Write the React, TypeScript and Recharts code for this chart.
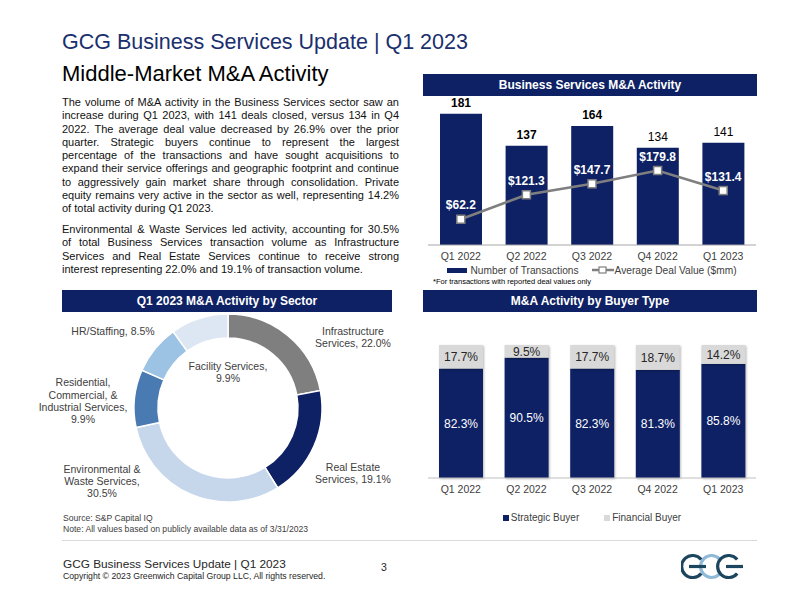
import {
  ComposedChart,
  BarChart,
  Bar,
  Line,
  XAxis,
  YAxis,
  LabelList,
  Legend,
  PieChart,
  Pie,
  Cell,
} from 'recharts'

const NAVY = '#0e2164'
const GRAY_TEXT = '#404040'
const FONT = '"Liberation Sans", Arial, Helvetica, sans-serif'

// quarterly activity
const quarters = ['Q1 2022', 'Q2 2022', 'Q3 2022', 'Q4 2022', 'Q1 2023']
const transactions = [181, 137, 164, 134, 141]
const avgDealValue = [62.2, 121.3, 147.7, 179.8, 131.4]

// buyer mix (% of deals)
const strategicShare = [82.3, 90.5, 82.3, 81.3, 85.8]
const financialShare = [17.7, 9.5, 17.7, 18.7, 14.2]

// Q1 2023 sector split (%)
const sectorNames = [
  'Infrastructure Services',
  'Real Estate Services',
  'Environmental & Waste Services',
  'Residential, Commercial, & Industrial Services',
  'HR/Staffing',
  'Facility Services',
]
const sectorShares = [22.0, 19.1, 30.5, 9.9, 8.5, 9.9]
const sectorColors = ['#7f7f7f', NAVY, '#c6d6eb', '#4a7ab2', '#9cc2e4', '#dde7f3']

const introLines = [
  'The volume of M&A activity in the Business Services sector saw an',
  'increase during Q1 2023, with 141 deals closed, versus 134 in Q4',
  '2022. The average deal value decreased by 26.9% over the prior',
  'quarter. Strategic buyers continue to represent the largest',
  'percentage of the transactions and have sought acquisitions to',
  'expand their service offerings and geographic footprint and continue',
  'to aggressively gain market share through consolidation. Private',
  'equity remains very active in the sector as well, representing 14.2%',
  'of total activity during Q1 2023.',
]
const sectorLines = [
  'Environmental & Waste Services led activity, accounting for 30.5%',
  'of total Business Services transaction volume as Infrastructure',
  'Services and Real Estate Services continue to receive strong',
  'interest representing 22.0% and 19.1% of transaction volume.',
]

const activityRows = quarters.map((quarter, i) => ({
  quarter,
  count: transactions[i],
  value: avgDealValue[i],
}))
const buyerRows = quarters.map((quarter, i) => ({
  quarter,
  strategic: strategicShare[i],
  financial: financialShare[i],
}))
const sectorRows = sectorNames.map((name, i) => ({ name, share: sectorShares[i] }))

// where each donut label sits relative to the pie centre, and how it wraps
const sectorLabelLayout = [
  { dx: 125, dy: -71, lines: ['Infrastructure', 'Services, {v}'] },
  { dx: 125, dy: 65, lines: ['Real Estate', 'Services, {v}'] },
  { dx: -126, dy: 73, lines: ['Environmental &', 'Waste Services,', '{v}'] },
  { dx: -145, dy: -7, lines: ['Residential,', 'Commercial, &', 'Industrial Services,', '{v}'] },
  { dx: -115, dy: -77, lines: ['HR/Staffing, {v}'] },
  { dx: 0, dy: -36, lines: ['Facility Services,', '{v}'] },
]

const pct = (v: number) => `${v.toFixed(1)}%`

const HeaderBar = ({ left, top, width, title }: any) => (
  <div
    style={{
      position: 'absolute',
      left,
      top,
      width,
      height: 22,
      background: NAVY,
      color: '#fff',
      fontWeight: 700,
      fontSize: 12,
      lineHeight: '22px',
      textAlign: 'center',
    }}
  >
    {title}
  </div>
)

const Justified = ({ top, lines }: { top: number; lines: string[] }) => (
  <div style={{ position: 'absolute', left: 62, top, width: 337, fontSize: 11, lineHeight: '13.3px', color: '#111' }}>
    {lines.map((line, i) => (
      <div
        key={i}
        style={{ textAlign: 'justify', textAlignLast: i === lines.length - 1 ? 'left' : 'justify', whiteSpace: 'nowrap' }}
      >
        {line}
      </div>
    ))}
  </div>
)

const SquareDot = (props: any) => {
  const { cx, cy, index } = props
  if (cx == null || cy == null) return null
  return (
    <rect key={`dot-${index}`} x={cx - 4} y={cy - 4} width={8} height={8} fill="#fff" stroke="#7f7f7f" strokeWidth={1.5} />
  )
}

const CountLabel = (props: any) => {
  const { x, y, width, value, index } = props
  return (
    <text
      x={x + width / 2}
      y={y - 7}
      textAnchor="middle"
      fontSize={12}
      fontWeight={index < 3 ? 700 : 400}
      fill="#000"
    >
      {value}
    </text>
  )
}

const ValueLabel = (props: any) => {
  const { x, y, value } = props
  return (
    <text x={x} y={y - 10} textAnchor="middle" fontSize={12} fontWeight={700} fill="#fff">
      ${Number(value).toFixed(1)}
    </text>
  )
}

const ActivityLegend = () => (
  <div
    style={{
      display: 'flex',
      justifyContent: 'center',
      alignItems: 'center',
      height: 14,
      fontSize: 10.2,
      color: GRAY_TEXT,
      whiteSpace: 'nowrap',
    }}
  >
    <span style={{ display: 'inline-block', width: 20, height: 5, background: NAVY, marginRight: 3 }} />
    <span style={{ marginRight: 13 }}>Number of Transactions</span>
    <svg width={22} height={10} style={{ marginRight: 1 }}>
      <line x1={0} y1={5} x2={22} y2={5} stroke="#7f7f7f" strokeWidth={2.5} />
      <rect x={7} y={2} width={7} height={6} fill="#fff" stroke="#7f7f7f" strokeWidth={1.2} />
    </svg>
    <span>Average Deal Value ($mm)</span>
  </div>
)

const BuyerLegend = () => (
  <div
    style={{
      display: 'flex',
      justifyContent: 'center',
      alignItems: 'center',
      height: 32,
      paddingTop: 7,
      boxSizing: 'border-box',
      fontSize: 10,
      color: GRAY_TEXT,
      whiteSpace: 'nowrap',
    }}
  >
    <span style={{ display: 'inline-block', width: 6, height: 6, background: NAVY, marginRight: 2 }} />
    <span style={{ marginRight: 25 }}>Strategic Buyer</span>
    <span style={{ display: 'inline-block', width: 6, height: 6, background: '#d9d9d9', marginRight: 2 }} />
    <span>Financial Buyer</span>
  </div>
)

const ShadowBar = (props: any) => {
  const { x, y, width, height, fill } = props
  return (
    <rect
      x={x}
      y={y}
      width={width}
      height={height}
      fill={fill}
      style={{ filter: 'drop-shadow(1.5px 1px 1px rgba(0,0,0,0.28))' }}
    />
  )
}

const SectorLabel = (props: any) => {
  const { cx, cy, index } = props
  const layout = sectorLabelLayout[index]
  const lines = layout.lines.map(l => l.replace('{v}', pct(sectorShares[index])))
  const lh = 12.2
  const startY = cy + layout.dy - ((lines.length - 1) * lh) / 2
  return (
    <text
      key={`sector-${index}`}
      x={cx + layout.dx}
      y={startY}
      textAnchor="middle"
      fontSize={10.5}
      fill={GRAY_TEXT}
    >
      {lines.map((line, i) => (
        <tspan key={i} x={cx + layout.dx} y={startY + i * lh} dy={3.7}>
          {line}
        </tspan>
      ))}
    </text>
  )
}

// interlocking G-C-G rings
const GcgLogo = () => (
  <svg width={64} height={30} style={{ position: 'absolute', left: 681, top: 552 }}>
    <g fill="none" strokeWidth={3.2}>
      <path d="M 38.2 6.6 A 11 11 0 1 0 38.2 22.4" stroke="#8fb9d6" />
      <path d="M 20.2 7.6 A 11 11 0 1 0 20.2 21.4" stroke="#1c4560" />
      <line x1={8} y1={14.5} x2={25} y2={14.5} stroke="#1c4560" />
      <path d="M 56.2 7.6 A 11 11 0 1 0 56.2 21.4" stroke="#1c4560" />
      <line x1={45} y1={14.5} x2={62} y2={14.5} stroke="#1c4560" />
    </g>
  </svg>
)

export default function App() {
  return (
    <div
      style={{
        position: 'fixed',
        left: 0,
        top: 0,
        width: 800,
        height: 600,
        background: '#fff',
        fontFamily: FONT,
        overflow: 'hidden',
      }}
    >
      <div style={{ position: 'absolute', left: 62, top: 32, fontSize: 21.5, lineHeight: '21px', color: '#1a2f6e', whiteSpace: 'nowrap' }}>
        GCG Business Services Update | Q1 2023
      </div>
      <div style={{ position: 'absolute', left: 62, top: 63, fontSize: 22, lineHeight: '22px', color: '#000', whiteSpace: 'nowrap' }}>
        Middle-Market M&amp;A Activity
      </div>

      <Justified top={96} lines={introLines} />
      <Justified top={223} lines={sectorLines} />

      <HeaderBar left={423} top={74} width={334} title="Business Services M&A Activity" />
      <HeaderBar left={62} top={290} width={330} title="Q1 2023 M&A Activity by Sector" />
      <HeaderBar left={423} top={290} width={334} title="M&A Activity by Buyer Type" />

      <div style={{ position: 'absolute', left: 420, top: 92 }}>
        <ComposedChart width={340} height={185} data={activityRows} margin={{ top: 8, right: 4, left: 8, bottom: 0 }}>
          <XAxis
            dataKey="quarter"
            height={18}
            tickLine={false}
            interval={0}
            axisLine={{ stroke: '#a6a6a6' }}
            tick={{ fill: GRAY_TEXT, fontSize: 10.5 }}
          />
          <YAxis yAxisId="count" hide domain={[0, 200]} />
          <YAxis yAxisId="value" hide orientation="right" domain={[0, 350]} />
          <Legend verticalAlign="bottom" height={14} content={<ActivityLegend />} />
          <Bar yAxisId="count" dataKey="count" fill={NAVY} barSize={42} isAnimationActive={false}>
            <LabelList dataKey="count" content={CountLabel} />
          </Bar>
          <Line
            yAxisId="value"
            dataKey="value"
            stroke="#7f7f7f"
            strokeWidth={2.5}
            dot={SquareDot}
            activeDot={false}
            isAnimationActive={false}
          >
            <LabelList dataKey="value" content={ValueLabel} />
          </Line>
        </ComposedChart>
      </div>
      <div style={{ position: 'absolute', left: 433, top: 277, fontSize: 7.5, lineHeight: '10px', color: '#000' }}>
        *For transactions with reported deal values only
      </div>

      <div style={{ position: 'absolute', left: 20, top: 298 }}>
        <PieChart width={400} height={240} margin={{ top: 0, right: 0, bottom: 0, left: 0 }}>
          <Pie
            data={sectorRows}
            dataKey="share"
            nameKey="name"
            cx={208}
            cy={110}
            innerRadius={70}
            outerRadius={94}
            startAngle={90}
            endAngle={-270}
            stroke="#fff"
            strokeWidth={1.5}
            label={SectorLabel}
            labelLine={false}
            isAnimationActive={false}
          >
            {sectorRows.map((row, i) => (
              <Cell key={row.name} fill={sectorColors[i]} />
            ))}
          </Pie>
        </PieChart>
      </div>

      <div style={{ position: 'absolute', left: 420, top: 335 }}>
        <BarChart width={340} height={195} data={buyerRows} margin={{ top: 10, right: 4, left: 8, bottom: 0 }}>
          <XAxis
            dataKey="quarter"
            height={20}
            tickLine={false}
            interval={0}
            axisLine={{ stroke: '#bfbfbf' }}
            tick={{ fill: GRAY_TEXT, fontSize: 10.5 }}
          />
          <YAxis hide domain={[0, 100]} />
          <Legend verticalAlign="bottom" height={32} content={<BuyerLegend />} />
          <Bar dataKey="strategic" stackId="buyer" fill={NAVY} barSize={44} shape={ShadowBar} isAnimationActive={false}>
            <LabelList dataKey="strategic" position="center" fill="#fff" fontSize={12} formatter={pct} />
          </Bar>
          <Bar dataKey="financial" stackId="buyer" fill="#d9d9d9" barSize={44} shape={ShadowBar} isAnimationActive={false}>
            <LabelList dataKey="financial" position="center" fill="#262626" fontSize={12} formatter={pct} />
          </Bar>
        </BarChart>
      </div>

      <div style={{ position: 'absolute', left: 63, top: 513, fontSize: 8.6, lineHeight: '11px', color: GRAY_TEXT, whiteSpace: 'nowrap' }}>
        <div>Source: S&amp;P Capital IQ</div>
        <div>Note: All values based on publicly available data as of 3/31/2023</div>
      </div>
      <div style={{ position: 'absolute', left: 62, top: 540, width: 695, height: 1, background: '#d9d9d9' }} />

      <div style={{ position: 'absolute', left: 63, top: 557, fontSize: 11.8, lineHeight: '14px', color: '#262626', whiteSpace: 'nowrap' }}>
        GCG Business Services Update | Q1 2023
      </div>
      <div style={{ position: 'absolute', left: 63, top: 571, fontSize: 8.7, lineHeight: '10px', color: '#262626', whiteSpace: 'nowrap' }}>
        Copyright © 2023 Greenwich Capital Group LLC, All rights reserved.
      </div>
      <div style={{ position: 'absolute', left: 381, top: 561, fontSize: 10.5, lineHeight: '12px', color: '#262626' }}>3</div>
      <GcgLogo />
    </div>
  )
}
